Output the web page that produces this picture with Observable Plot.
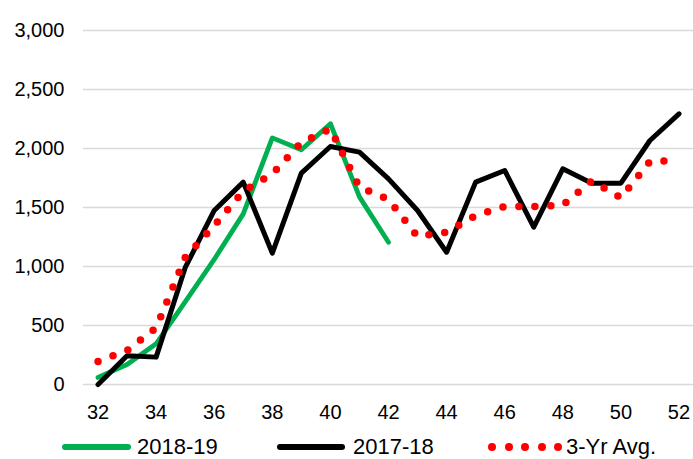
<!DOCTYPE html>
<html>
<head>
<meta charset="utf-8">
<script src="https://cdn.jsdelivr.net/npm/d3@7"></script>
<script src="https://cdn.jsdelivr.net/npm/@observablehq/plot@0.6"></script>
<style>
  body { margin: 0; background: #fff; font-family: "Liberation Sans", Arial, sans-serif; }
  #wrap { width: 693px; height: 459px; overflow: hidden; position: relative; }
  #legend { position: relative; width: 693px; height: 31px; }
  #legend .t { position: absolute; top: 8px; line-height: 22px; height: 22px; font-size: 22px; color: #000; white-space: nowrap; }
  #legend .sw { position: absolute; top: 16px; height: 6px; border-radius: 3px; }
  #legend .dot { position: absolute; top: 15px; width: 8px; height: 8px; border-radius: 50%; background: #ff0000; }
</style>
</head>
<body>
<div id="wrap"><div id="chart"></div><div id="legend"></div></div>
<script>
const weeks = [32,33,34,35,36,37,38,39,40,41,42,43,44,45,46,47,48,49,50,51,52];
const s2018_19 = [60,170,345,700,1060,1446,2090,1990,2210,1590,1205];
const s2017_18 = [0,243,232,990,1475,1715,1113,1791,2017,1969,1743,1475,1121,1715,1814,1333,1828,1706,1706,2068,2294];
const avg3yr = [195,288,480,1076,1347,1638,1785,2051,2166,1672,1568,1254,1291,1432,1508,1508,1520,1726,1582,1890,1900];
const yTicks = [0,500,1000,1500,2000,2500,3000];
const xTicks = [32,34,36,38,40,42,44,46,48,50,52];
const seriesNames = ["2018-19","2017-18","3-Yr Avg."];

const d18 = s2018_19.map((v,i)=>({week: weeks[i], value: v}));
const d17 = s2017_18.map((v,i)=>({week: weeks[i], value: v}));
const dAvg = avg3yr.map((v,i)=>({week: weeks[i], value: v}));

const chart = Plot.plot({
  width: 693,
  height: 428,
  marginTop: 30,
  marginBottom: 44,
  marginLeft: 83,
  marginRight: 0,
  style: { fontFamily: "Liberation Sans, Arial, sans-serif", fontSize: "20px", color: "#000", background: "#fff" },
  x: { domain: [31.5, 52.5] },
  y: { domain: [0, 3000] },
  marks: [
    Plot.gridY(yTicks, { stroke: "#d9d9d9", strokeOpacity: 1, strokeWidth: 1.6 }),
    Plot.axisY(yTicks, { tickSize: 0, tickPadding: 19, tickFormat: d3.format(","), label: null, fontSize: 20 }),
    Plot.axisX(xTicks, { tickSize: 0, tickPadding: 20, tickFormat: d => String(d), label: null, fontSize: 20 }),
    Plot.line(d18, { x: "week", y: "value", stroke: "#00b050", strokeWidth: 4.8, strokeLinejoin: "round", strokeLinecap: "round" }),
    Plot.line(d17, { x: "week", y: "value", stroke: "#000000", strokeWidth: 5, strokeLinejoin: "round", strokeLinecap: "round" }),
    Plot.line(dAvg, { x: "week", y: "value", stroke: "#ff0000", strokeWidth: 7.5, strokeDasharray: "0 16", strokeLinecap: "round" })
  ]
});
document.getElementById("chart").appendChild(chart);

const lg = document.getElementById("legend");
function add(html){ lg.insertAdjacentHTML("beforeend", html); }
add(`<div class="sw" style="left:62px;width:69px;background:#00b050"></div>`);
add(`<div class="t" style="left:137px">${seriesNames[0]}</div>`);
add(`<div class="sw" style="left:277px;width:68px;background:#000"></div>`);
add(`<div class="t" style="left:353px">${seriesNames[1]}</div>`);
for (let i = 0; i < 5; i++) add(`<div class="dot" style="left:${488 + i*16.6}px"></div>`);
add(`<div class="t" style="left:566px">${seriesNames[2]}</div>`);
</script>
</body>
</html>
